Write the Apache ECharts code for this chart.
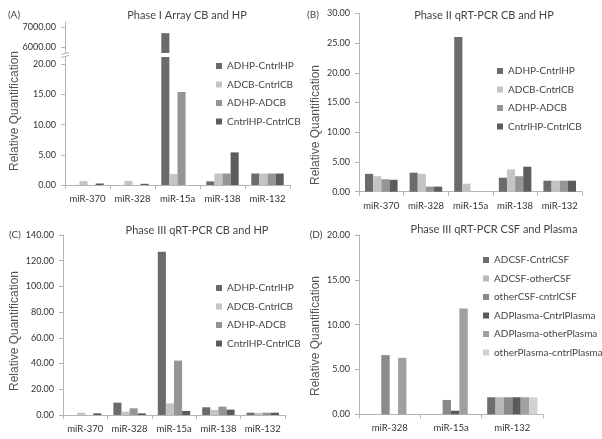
<!DOCTYPE html>
<html>
<head>
<meta charset="utf-8">
<script src="https://cdn.jsdelivr.net/npm/echarts@6/dist/echarts.min.js"></script>
<style>html,body{margin:0;padding:0;background:#fff;}#c{width:602px;height:439px;}</style>
</head>
<body>
<div id="c"></div>
<script>
// ---- data ----
var categoriesCB = ['miR-370', 'miR-328', 'miR-15a', 'miR-138', 'miR-132'];
var categoriesCSF = ['miR-328', 'miR-15a', 'miR-132'];
var namesCB = ['ADHP-CntrlHP', 'ADCB-CntrlCB', 'ADHP-ADCB', 'CntrlHP-CntrlCB'];
var namesCSF = ['ADCSF-CntrlCSF', 'ADCSF-otherCSF', 'otherCSF-cntrlCSF', 'ADPlasma-CntrlPlasma', 'ADPlasma-otherPlasma', 'otherPlasma-cntrlPlasma'];

// Panel A: Phase I Array CB and HP
var a_ADHP_CntrlHP    = [0, 0, 6700, 0.6, 1.9];
var a_ADCB_CntrlCB    = [0.65, 0.65, 1.8, 1.9, 1.9];
var a_ADHP_ADCB       = [0, 0, 15.4, 1.9, 1.9];
var a_CntrlHP_CntrlCB = [0.25, 0.2, 0, 5.4, 1.9];
// Panel B: Phase II qRT-PCR CB and HP
var b_ADHP_CntrlHP    = [3.0, 3.2, 26.0, 2.35, 1.85];
var b_ADCB_CntrlCB    = [2.6, 3.0, 1.35, 3.75, 1.85];
var b_ADHP_ADCB       = [2.1, 0.85, 0, 2.6, 1.85];
var b_CntrlHP_CntrlCB = [2.0, 0.85, 0, 4.2, 1.85];
// Panel C: Phase III qRT-PCR CB and HP
var c_ADHP_CntrlHP    = [0, 9.6, 127, 6.0, 1.8];
var c_ADCB_CntrlCB    = [1.8, 2.6, 9.1, 3.9, 1.6];
var c_ADHP_ADCB       = [0, 5.2, 42.3, 6.5, 1.8];
var c_CntrlHP_CntrlCB = [1.3, 1.3, 3.1, 4.2, 1.8];
// Panel D: Phase III qRT-PCR CSF and Plasma
var d_ADCSF_CntrlCSF          = [0, 0, 1.9];
var d_ADCSF_otherCSF          = [0, 0, 1.9];
var d_otherCSF_cntrlCSF       = [6.6, 1.6, 1.9];
var d_ADPlasma_CntrlPlasma    = [0, 0.4, 1.9];
var d_ADPlasma_otherPlasma    = [6.3, 11.8, 1.9];
var d_otherPlasma_cntrlPlasma = [0, 0, 1.9];

// tick labels
var ticksAUpper = [6000, 7000];
var ticksALower = [0, 5, 10, 15, 20];

// ---- styling ----
var colorsCB = ['#6b6b6b', '#c4c4c4', '#959595', '#5c5c5c'];
var colorsCSF = ['#6e6e6e', '#b8b8b8', '#8a8a8a', '#5a5a5a', '#a0a0a0', '#d2d2d2'];
var LBL = {fontFamily: 'Lato', fontSize: 9, color: '#333'};
var AX = {lineStyle: {color: '#b5b5b5', width: 1}};

function xAxisCfg(grid, data, show) {
  return {
    type: 'category', gridIndex: grid, data: data, show: show,
    axisLine: AX, axisTick: {show: true, length: 4, lineStyle: {color: '#b5b5b5'}},
    axisLabel: {fontFamily: 'Lato', fontSize: 9.5, color: '#333', margin: 9, interval: 0, hideOverlap: false}
  };
}
function yAxisCfg(grid, extra) {
  var o = {
    type: 'value', gridIndex: grid,
    axisLine: {show: true, lineStyle: {color: '#b5b5b5'}},
    axisTick: {show: true, length: 4, lineStyle: {color: '#b5b5b5'}},
    splitLine: {show: false},
    axisLabel: Object.assign({margin: 9, formatter: function (v) { return v.toFixed(2); }}, LBL)
  };
  return Object.assign(o, extra);
}
function bars(names, datas, colors, axisIdx, gap) {
  return names.map(function (n, i) {
    return {
      type: 'bar', name: n, data: datas[i], xAxisIndex: axisIdx, yAxisIndex: axisIdx,
      barGap: '0%', barCategoryGap: gap, itemStyle: {color: colors[i]}, clip: true,
      animation: false
    };
  });
}
function legendCfg(names, left, top) {
  return {
    orient: 'vertical', left: left, top: top, icon: 'rect', itemWidth: 6, itemHeight: 6,
    itemGap: 6.5, selectedMode: false, data: names,
    textStyle: {fontFamily: 'Lato', fontSize: 10, color: '#444', lineHeight: 12}
  };
}
function txt(s, x, y, font, color, rot) {
  return {
    type: 'text', x: x, y: y, rotation: rot || 0, silent: true,
    style: {text: s, font: font, fill: color || '#444', align: 'center', verticalAlign: 'middle'}
  };
}

var aData = [a_ADHP_CntrlHP, a_ADCB_CntrlCB, a_ADHP_ADCB, a_CntrlHP_CntrlCB];
var bData = [b_ADHP_CntrlHP, b_ADCB_CntrlCB, b_ADHP_ADCB, b_CntrlHP_CntrlCB];
var cData = [c_ADHP_CntrlHP, c_ADCB_CntrlCB, c_ADHP_ADCB, c_CntrlHP_CntrlCB];
var dData = [d_ADCSF_CntrlCSF, d_ADCSF_otherCSF, d_otherCSF_cntrlCSF, d_ADPlasma_CntrlPlasma, d_ADPlasma_otherPlasma, d_otherPlasma_cntrlPlasma];

var chart = echarts.init(document.getElementById('c'), null, {renderer: 'canvas'});
var titleFont = '11px Lato';
var nameFont = '12px "Liberation Sans"';
var option = {
  backgroundColor: '#fff',
  animation: false,
  grid: [
    {left: 65, top: 22, width: 225, height: 31},       // A upper
    {left: 65, top: 57, width: 225, height: 128},      // A lower
    {left: 359, top: 13.3, width: 223, height: 178.4}, // B
    {left: 63, top: 235, width: 222, height: 180},     // C
    {left: 359, top: 235, width: 184, height: 179.3}   // D
  ],
  xAxis: [
    xAxisCfg(0, categoriesCB, false),
    xAxisCfg(1, categoriesCB, true),
    xAxisCfg(2, categoriesCB, true),
    xAxisCfg(3, categoriesCB, true),
    xAxisCfg(4, categoriesCSF, true)
  ],
  yAxis: [
    yAxisCfg(0, {min: 5730, max: 7245,
      axisLabel: Object.assign({margin: 9, customValues: ticksAUpper, formatter: function (v) { return v.toFixed(2); }}, LBL),
      axisTick: {show: true, length: 4, customValues: ticksAUpper, lineStyle: {color: '#b5b5b5'}}}),
    yAxisCfg(1, {min: 0, max: 21.2,
      axisLabel: Object.assign({margin: 9, customValues: ticksALower, formatter: function (v) { return v.toFixed(2); }}, LBL),
      axisTick: {show: true, length: 4, customValues: ticksALower, lineStyle: {color: '#b5b5b5'}}}),
    yAxisCfg(2, {min: 0, max: 30, interval: 5}),
    yAxisCfg(3, {min: 0, max: 140, interval: 20}),
    yAxisCfg(4, {min: 0, max: 20, interval: 5})
  ],
  legend: [
    legendCfg(namesCB, 211, 55),
    legendCfg(namesCB, 492, 60),
    legendCfg(namesCB, 211, 277),
    legendCfg(namesCSF, 478, 249)
  ],
  graphic: [
    txt('(A)', 14, 15, '10px Lato', '#444'),
    txt('(B)', 313, 15, '10px Lato', '#444'),
    txt('(C)', 15, 235, '10px Lato', '#444'),
    txt('(D)', 316, 235, '10px Lato', '#444'),
    txt('Phase I Array CB and HP', 187, 15, titleFont, '#444'),
    txt('Phase II qRT-PCR CB and HP', 484, 15, titleFont, '#444'),
    txt('Phase III qRT-PCR CB and HP', 197, 230, titleFont, '#444'),
    txt('Phase III qRT-PCR CSF and Plasma', 494, 229, titleFont, '#444'),
    txt('Relative Quantification', 15, 111, nameFont, '#555', Math.PI / 2),
    txt('Relative Quantification', 316, 125, nameFont, '#555', Math.PI / 2),
    txt('Relative Quantification', 15, 331, nameFont, '#555', Math.PI / 2),
    txt('Relative Quantification', 316, 336, nameFont, '#555', Math.PI / 2),
    {type: 'line', silent: true, shape: {x1: 61, y1: 54.5, x2: 69, y2: 52.5}, style: {stroke: '#b5b5b5', lineWidth: 1}},
    {type: 'line', silent: true, shape: {x1: 61, y1: 57.5, x2: 69, y2: 55.5}, style: {stroke: '#b5b5b5', lineWidth: 1}}
  ],
  series: [].concat(
    bars(namesCB, aData, colorsCB, 0, '28%'),
    bars(namesCB, aData, colorsCB, 1, '28%'),
    bars(namesCB, bData, colorsCB, 2, '27%'),
    bars(namesCB, cData, colorsCB, 3, '27%'),
    bars(namesCSF, dData, colorsCSF, 4, '18%')
  )
};
chart.setOption(option);
</script>
</body>
</html>
